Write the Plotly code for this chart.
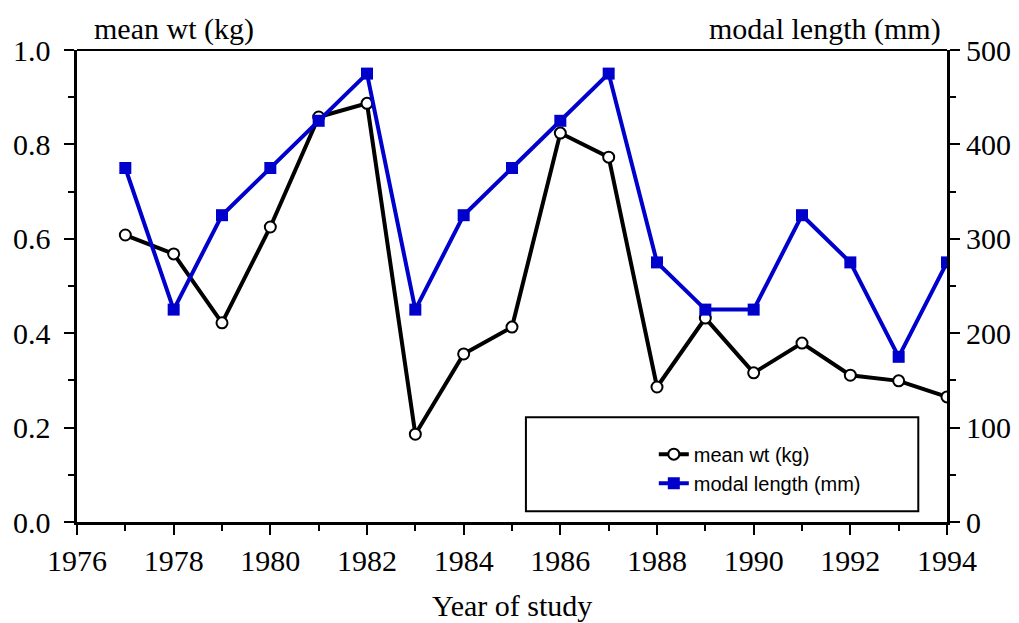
import plotly.graph_objects as go

years = list(range(1977, 1995))
mean_wt = [0.608, 0.568, 0.422, 0.625, 0.858, 0.887, 0.186, 0.356, 0.413,
           0.824, 0.773, 0.286, 0.432, 0.316, 0.379, 0.311, 0.299, 0.265]
modal_len = [375, 225, 325, 375, 425, 475, 225, 325, 375,
             425, 475, 275, 225, 225, 325, 275, 175, 275]

SERIF = "'Liberation Serif', 'Times New Roman', serif"
SANS = "'Liberation Sans', Arial, sans-serif"

fig = go.Figure()
fig.add_trace(go.Scatter(
    x=years, y=mean_wt, name="mean wt (kg)", mode="lines+markers",
    line=dict(color="black", width=4),
    marker=dict(symbol="circle", size=11, color="white",
                line=dict(color="black", width=2)),
    yaxis="y"))
fig.add_trace(go.Scatter(
    x=years, y=modal_len, name="modal length (mm)", mode="lines+markers",
    line=dict(color="#0000CC", width=4),
    marker=dict(symbol="square", size=12, color="#0000CC"),
    yaxis="y2"))

axis_common = dict(
    showgrid=False, zeroline=False, showline=True, linecolor="black",
    linewidth=3, ticks="outside", ticklen=10, tickwidth=2, tickcolor="black",
    tickfont=dict(family=SERIF, size=30, color="black"), automargin=False,
)

# page body adds an 8px offset; compensate in size and margins
fig.update_layout(
    width=1011, height=615,
    margin=dict(l=69, r=72, t=42, b=101),
    paper_bgcolor="white", plot_bgcolor="white",
    showlegend=True,
    xaxis=dict(range=[1976, 1994], tick0=1976, dtick=2,
               minor=dict(dtick=1, ticks="outside", ticklen=6, tickwidth=2,
                          tickcolor="black"),
               **axis_common),
    yaxis=dict(range=[0, 1.0], tick0=0, dtick=0.2, tickformat=".1f",
               ticksuffix="\u00a0",
               minor=dict(dtick=0.1, ticks="outside", ticklen=6, tickwidth=2,
                          tickcolor="black"),
               **axis_common),
    yaxis2=dict(range=[0, 500], tick0=0, dtick=100, overlaying="y",
                side="right",
                minor=dict(dtick=50, ticks="outside", ticklen=6, tickwidth=2,
                           tickcolor="black"),
                **axis_common),
    legend=dict(x=0.663, y=0.185, xanchor="left", yanchor="top",
                bgcolor="rgba(0,0,0,0)", borderwidth=0,
                font=dict(family=SANS, size=20, color="black")),
    shapes=[
        dict(type="line", xref="paper", yref="paper", x0=0, x1=1, y0=1, y1=1,
             line=dict(color="black", width=2)),
        dict(type="rect", xref="paper", yref="paper", x0=0.516, x1=0.967,
             y0=0.023, y1=0.222, line=dict(color="black", width=2),
             fillcolor="white", layer="above"),
    ],
    annotations=[
        dict(text="mean wt (kg)", xref="paper", yref="paper", x=0.017, y=1.0,
             xanchor="left", yanchor="bottom", yshift=2, showarrow=False,
             font=dict(family=SERIF, size=30, color="black")),
        dict(text="modal length (mm)", xref="paper", yref="paper", x=0.995,
             y=1.0, xanchor="right", yanchor="bottom", yshift=2,
             showarrow=False,
             font=dict(family=SERIF, size=30, color="black")),
        dict(text="Year of study", xref="paper", yref="paper", x=0.5, y=0,
             xanchor="center", yanchor="middle", yshift=-83, showarrow=False,
             font=dict(family=SERIF, size=30, color="black")),
    ],
)

fig.write_html("out.html")
